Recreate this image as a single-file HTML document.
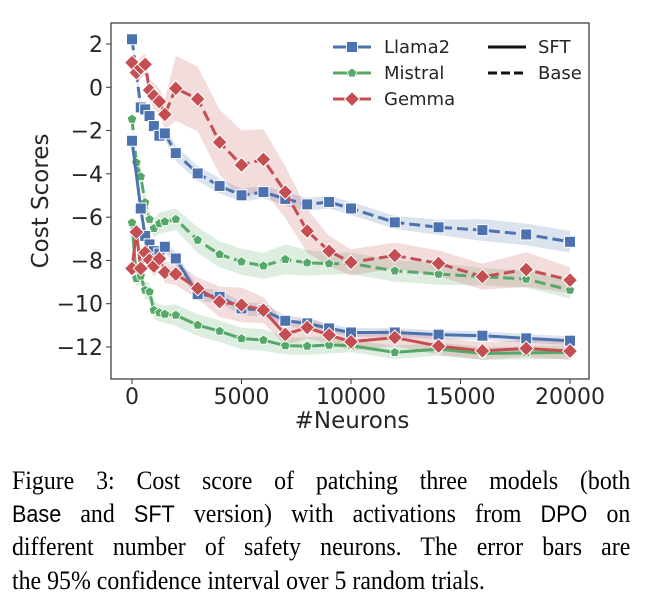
<!DOCTYPE html>
<html><head><meta charset="utf-8">
<style>
body{margin:0;background:#fff;width:645px;height:607px;overflow:hidden;position:relative}
.cap{position:absolute;left:12px;width:687px;transform:scaleX(0.9);transform-origin:0 0;font-family:"Liberation Serif",serif;font-size:26.5px;line-height:30px;color:#000;text-align:justify;text-align-last:justify;white-space:nowrap}
.tt{font-family:"Liberation Sans",sans-serif;font-size:24px}
</style></head><body>
<svg id="chart" width="645" height="440" style="position:absolute;left:0;top:0" font-family="DejaVu Sans, Liberation Sans, sans-serif"></svg>
<div class="cap" style="top:465px">Figure 3: Cost score of patching three models (both</div>
<div class="cap" style="top:498px"><span class="tt">Base</span> and <span class="tt">SFT</span> version) with activations from <span class="tt">DPO</span> on</div>
<div class="cap" style="top:531px">different number of safety neurons. The error bars are</div>
<div class="cap" style="top:565px;text-align-last:left">the 95% confidence interval over 5 random trials.</div>
<script>
const xs=[0,200,400,600,800,1000,1250,1500,2000,3000,4000,5000,6000,7000,8000,9000,10000,12000,14000,16000,18000,20000];
const llamaBase=[2.22,null,-0.93,-1.02,-1.33,-1.79,-2.24,-2.13,-3.04,-3.98,-4.56,-4.99,-4.84,-5.16,-5.41,-5.30,-5.60,-6.24,-6.47,-6.60,-6.80,-7.14];
const mistralBase=[-1.47,-3.48,-4.13,-5.33,-6.10,-6.52,-6.29,-6.21,-6.10,-7.06,-7.72,-8.06,-8.25,-7.95,-8.11,-8.15,-8.14,-8.48,-8.63,-8.75,-8.86,-9.37];
const gemmaBase=[1.14,0.68,0.9,1.06,-0.13,-0.40,-0.66,-1.25,-0.05,-0.54,-2.54,-3.59,-3.33,-4.84,-6.64,-7.57,-8.09,-7.77,-8.14,-8.75,-8.42,-8.91];
const llamaSFT=[-2.47,null,-5.60,-6.87,-7.26,-7.57,-7.68,-7.37,-7.91,-9.56,-9.68,-10.22,-10.30,-10.79,-10.91,-11.14,-11.33,-11.33,-11.43,-11.48,-11.60,-11.71];
const mistralSFT=[-6.26,-8.83,-8.72,-9.37,-9.45,-10.30,-10.42,-10.48,-10.53,-10.99,-11.27,-11.61,-11.68,-11.94,-11.96,-11.91,-11.94,-12.25,-12.10,-12.30,-12.27,-12.25];
const gemmaSFT=[-8.37,-6.69,-8.37,-7.64,-7.98,-8.26,-7.92,-8.55,-8.63,-9.29,-9.91,-10.06,-10.30,-11.42,-11.10,-11.45,-11.76,-11.56,-11.96,-12.18,-12.07,-12.19];
const ciLlamaBase=[0.2,0.3,0.3,0.3,0.3,0.3,0.3,0.3,0.35,0.35,0.35,0.3,0.3,0.3,0.3,0.3,0.3,0.3,0.35,0.5,0.5,0.5];
const ciMistralBase=[0.2,0.4,0.4,0.4,0.4,0.4,0.5,0.5,0.5,0.6,0.6,0.6,0.6,0.7,0.6,0.5,0.5,0.5,0.5,0.4,0.4,0.4];
const ciGemmaBase=[0.3,0.4,0.5,0.5,0.5,0.6,0.6,0.7,1.5,1.5,1.5,1.6,1.4,1.2,1.0,0.7,0.6,0.6,0.6,0.6,0.8,0.6];
const ciLlamaSFT=[0.2,0.3,0.3,0.3,0.3,0.3,0.3,0.3,0.3,0.3,0.3,0.3,0.3,0.25,0.25,0.2,0.2,0.2,0.2,0.2,0.2,0.2];
const ciMistralSFT=[0.3,0.4,0.4,0.4,0.4,0.4,0.4,0.4,0.5,0.5,0.5,0.5,0.5,0.4,0.4,0.4,0.3,0.3,0.3,0.3,0.3,0.3];
const ciGemmaSFT=[0.3,0.5,0.5,0.5,0.5,0.5,0.5,0.5,0.5,0.5,0.7,0.8,0.6,0.5,0.5,0.4,0.4,0.4,0.4,0.4,0.4,0.4];
const yTicks=[2,0,-2,-4,-6,-8,-10,-12];
const xTicks=[0,5000,10000,15000,20000];
const yTickLabels=["2","0","\u22122","\u22124","\u22126","\u22128","\u221210","\u221212"];
const xTickLabels=["0","5000","10000","15000","20000"];

const NS="http://www.w3.org/2000/svg";
const svg=document.getElementById('chart');
const L=111,T=23,R=589,B=379;
const X=v=>132+v*(570-132)/20000;
const Y=v=>87.3-v*21.64;
function mk(tag,attrs,parent){const e=document.createElementNS(NS,tag);for(const k in attrs)e.setAttribute(k,attrs[k]);(parent||svg).appendChild(e);return e;}

const frame=mk('rect',{x:L,y:T,width:R-L,height:B-T,fill:'none',stroke:'#333','stroke-width':1.2});


yTicks.forEach((t,i)=>{
  const tk=mk('line',{x1:L-5,x2:L,y1:Y(t),y2:Y(t),stroke:'#333'});
  
  
  const tx=mk('text',{x:L-8,y:Y(t)+8,'text-anchor':'end','font-size':22,fill:'#262626'});tx.textContent=yTickLabels[i];
  
  
});
xTicks.forEach((t,i)=>{
  const tk=mk('line',{x1:X(t),x2:X(t),y1:B,y2:B+5,stroke:'#333'});
  
  
  const tx=mk('text',{x:X(t),y:B+25,'text-anchor':'middle','font-size':22,fill:'#262626'});tx.textContent=xTickLabels[i];
  
  
});
const xt=mk('text',{x:352,y:428,'text-anchor':'middle','font-size':23,fill:'#262626'});xt.textContent='#Neurons';


const yt=mk('text',{x:0,y:0,'text-anchor':'middle','font-size':23,fill:'#262626',transform:'translate(48,201) rotate(-90)'});yt.textContent='Cost Scores';



const C={b:'#4c72b0',g:'#55a868',r:'#c44e52'};
const series=[
 {n:'llama-base',v:llamaBase,ci:ciLlamaBase,c:C.b,m:'sq',d:true},
 {n:'mistral-base',v:mistralBase,ci:ciMistralBase,c:C.g,m:'pent',d:true},
 {n:'gemma-base',v:gemmaBase,ci:ciGemmaBase,c:C.r,m:'dia',d:true},
 {n:'llama-sft',v:llamaSFT,ci:ciLlamaSFT,c:C.b,m:'sq',d:false},
 {n:'mistral-sft',v:mistralSFT,ci:ciMistralSFT,c:C.g,m:'pent',d:false},
 {n:'gemma-sft',v:gemmaSFT,ci:ciGemmaSFT,c:C.r,m:'dia',d:false}];
function marker(m,x,y,c,g){
  if(m==='sq')return mk('rect',{x:x-5.5,y:y-5.5,width:11,height:11,fill:c,stroke:'#fff','stroke-width':1},g);
  if(m==='dia')return mk('path',{d:`M${x},${y-7.5}L${x+7.5},${y}L${x},${y+7.5}L${x-7.5},${y}Z`,fill:c,stroke:'#fff','stroke-width':1},g);
  let p=[];for(let k=0;k<5;k++){const a=-Math.PI/2+k*2*Math.PI/5;p.push((x+5*Math.cos(a)).toFixed(1)+','+(y+5*Math.sin(a)).toFixed(1));}
  return mk('polygon',{points:p.join(' '),fill:c,stroke:'#fff','stroke-width':0.8},g);
}
series.forEach(s=>{
  const idx=s.v.map((v,i)=>i).filter(i=>s.v[i]!==null);
  const up=idx.map(i=>X(xs[i])+','+Y(s.v[i]+s.ci[i]));
  const dn=idx.map(i=>X(xs[i])+','+Y(s.v[i]-s.ci[i])).reverse();
  const band=mk('polygon',{points:up.concat(dn).join(' '),fill:s.c,'fill-opacity':0.2});
  
  
});
series.forEach(s=>{
  const g=mk('g',{});
  
  
  const idx=s.v.map((v,i)=>i).filter(i=>s.v[i]!==null);
  const ln=mk('polyline',{points:idx.map(i=>X(xs[i])+','+Y(s.v[i])).join(' '),fill:'none',stroke:s.c,'stroke-width':3,'stroke-dasharray':s.d?'11,5':'none'},g);
  
  
  idx.forEach(i=>{const mm=marker(s.m,X(xs[i]),Y(s.v[i]),s.c,g);
    
    });
});
const lg=mk('g',{});


[['Llama2',C.b,'sq',47],['Mistral',C.g,'pent',73],['Gemma',C.r,'dia',99]].forEach(e=>{
  const ll=mk('line',{x1:333,x2:371,y1:e[3],y2:e[3],stroke:e[1],'stroke-width':3},lg);
  
  
  marker(e[2],352,e[3],e[1],lg);
  const t=mk('text',{x:384,y:e[3]+6,'font-size':18,fill:'#262626'},lg);t.textContent=e[0];
  
  
});
const l1=mk('line',{x1:488,x2:526,y1:47,y2:47,stroke:'#111','stroke-width':3},lg);


const t1=mk('text',{x:538,y:53,'font-size':18,fill:'#262626'},lg);t1.textContent='SFT';


const l2=mk('line',{x1:488,x2:526,y1:73,y2:73,stroke:'#111','stroke-width':3,'stroke-dasharray':'9,4'},lg);


const t2=mk('text',{x:538,y:79,'font-size':18,fill:'#262626'},lg);t2.textContent='Base';


</script>
</body></html>
